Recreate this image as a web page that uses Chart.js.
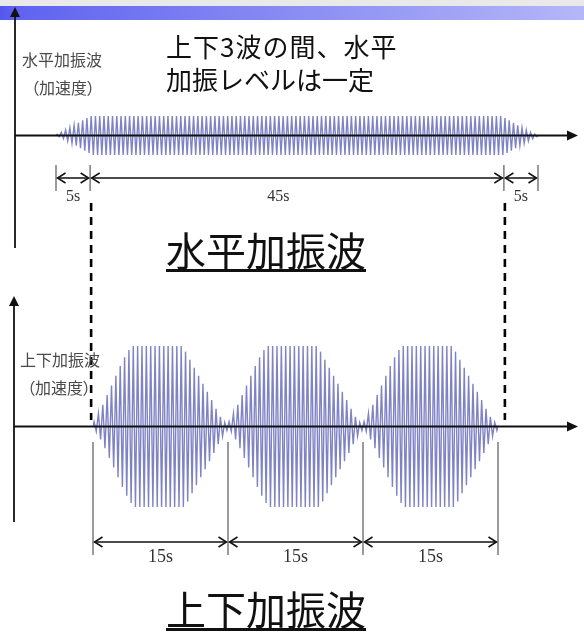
<!DOCTYPE html>
<html><head><meta charset="utf-8">
<script src="https://cdn.jsdelivr.net/npm/chart.js@4.4.0/dist/chart.umd.min.js"></script>
<style>
html,body{margin:0;padding:0;background:#fff;}
#wrap{position:relative;width:584px;height:637px;overflow:hidden;background:#fff;}
#topgray{position:absolute;left:0;top:0;width:584px;height:6px;background:#e9e9e9;}
#bar{position:absolute;left:0;top:6px;width:584px;height:14px;background:linear-gradient(to right,#5357ee 0%,#5f63f0 3%,#8588f2 45%,#b4b7f7 100%);}
canvas{position:absolute;left:0;top:0;}
.t{position:absolute;white-space:nowrap;font-family:"Noto Sans CJK JP","Noto Sans",sans-serif;}
.small{font-size:16px;line-height:16px;color:#4a4a4a;}
.palt{font-feature-settings:"palt";}
.big{font-size:26px;line-height:26px;color:#111;}
.title{font-size:40px;line-height:40px;color:#111;border-bottom:3px solid #111;}
.dim{position:absolute;white-space:nowrap;font-family:"Liberation Serif","DejaVu Serif",serif;color:#333;transform:translate(-50%,-50%);}
</style></head>
<body>
<div id="wrap">
  <div id="topgray"></div>
  <div id="bar"></div>
  <canvas id="c1" width="584" height="637"></canvas>
  <canvas id="c2" width="584" height="637"></canvas>
  <div class="t small" style="left:22px;top:51px;">水平加振波</div>
  <div class="t small palt" style="left:31px;top:79px;">（加速度）</div>
  <div class="t small" style="left:20px;top:351px;">上下加振波</div>
  <div class="t small palt" style="left:27px;top:379px;">（加速度）</div>
  <div class="t big" style="left:166px;top:33px;letter-spacing:1px;">上下3波の間、水平</div>
  <div class="t big" style="left:166px;top:66px;">加振レベルは一定</div>
  <div class="t title" style="left:166px;top:229px;">水平加振波</div>
  <div class="t title" style="left:166px;top:588px;">上下加振波</div>
</div>
<script>
// ---- data (envelope amplitude of each oscillation cycle) ----
const hRampUp   = [0.06, 0.16, 0.28, 0.40, 0.52, 0.65, 0.78, 0.90];
const hFlat     = [1,1,1,1,1,1,1,1,1,1, 1,1,1,1,1,1,1,1,1,1, 1,1,1,1,1,1,1,1,1,1,
                   1,1,1,1,1,1,1,1,1,1, 1,1,1,1,1,1,1,1,1,1, 1,1,1,1,1,1,1,1,1,1,
                   1,1,1,1,1,1,1,1,1,1, 1,1,1,1,1,1,1,1,1,1, 1,1,1,1,1,1,1,1,1,1,
                   1,1,1,1,1,1,1];
const hRampDown = [0.90, 0.78, 0.65, 0.52, 0.40, 0.28, 0.16, 0.06];

const vBurst1 = [0.06,0.16,0.27,0.39,0.51,0.63,0.75,0.86,0.95, 1,1,1,1,1,1,1,1,1,1,1,1,
                 0.93,0.83,0.73,0.63,0.53,0.43,0.33,0.22,0.12,0.05];
const vBurst2 = [0.06,0.16,0.27,0.39,0.51,0.63,0.75,0.86,0.95, 1,1,1,1,1,1,1,1,1,1,1,1,
                 0.93,0.83,0.73,0.63,0.53,0.43,0.33,0.22,0.12,0.05];
const vBurst3 = [0.06,0.16,0.27,0.39,0.51,0.63,0.75,0.86,0.95, 1,1,1,1,1,1,1,1,1,1,1,1,
                 0.93,0.83,0.73,0.63,0.53,0.43,0.33,0.22,0.12,0.05];

const hLabels = ['5s', '45s', '5s'];
const vLabels = ['15s', '15s', '15s'];

// ---- helpers ----
function wavePoints(env){
  const pts=[{x:0,y:0}];
  env.forEach((a,i)=>{ pts.push({x:i+0.25,y:a}); pts.push({x:i+0.75,y:-a}); });
  pts.push({x:env.length,y:0});
  return pts;
}
function line(ctx,x1,y1,x2,y2){ctx.beginPath();ctx.moveTo(x1,y1);ctx.lineTo(x2,y2);ctx.stroke();}
function triUp(ctx,x,y){ctx.beginPath();ctx.moveTo(x,y);ctx.lineTo(x-5,y+10);ctx.lineTo(x+5,y+10);ctx.closePath();ctx.fill();}
function triRight(ctx,x,y){ctx.beginPath();ctx.moveTo(x,y);ctx.lineTo(x-11,y-5);ctx.lineTo(x-11,y+5);ctx.closePath();ctx.fill();}
function chevron(ctx,x,y,dir){ctx.beginPath();ctx.moveTo(x-dir*8,y-5);ctx.lineTo(x,y);ctx.lineTo(x-dir*8,y+5);ctx.stroke();}
function dimArrows(ctx,bs,y,tickTop,tickBot){
  ctx.save();
  ctx.strokeStyle='#7a7a7a';ctx.lineWidth=1.5;
  bs.forEach(b=>line(ctx,b,tickTop,b,tickBot));
  ctx.strokeStyle='#111';ctx.lineWidth=1.5;
  for(let i=0;i<bs.length-1;i++){
    const a=bs[i]+1.5,b=bs[i+1]-1.5;
    line(ctx,a,y,b,y);
    chevron(ctx,a,y,-1);chevron(ctx,b,y,1);
  }
  ctx.restore();
}
function addLabel(text,x,y,size){
  const d=document.createElement('div');
  d.className='dim';d.textContent=text;
  d.style.left=x+'px';d.style.top=y+'px';d.style.fontSize=size+'px';d.style.lineHeight=size+'px';
  document.getElementById('wrap').appendChild(d);
}

const waveColor='rgba(66,72,168,0.68)';

function baseOptions(pad,xmax){
  return {
    responsive:false, animation:false, devicePixelRatio:1,
    layout:{padding:pad},
    scales:{
      x:{type:'linear',display:false,min:0,max:xmax},
      y:{type:'linear',display:false,min:-1,max:1}
    },
    plugins:{legend:{display:false},tooltip:{enabled:false},title:{display:false}},
    elements:{point:{radius:0},line:{tension:0}}
  };
}

// ---- chart 1 : horizontal excitation ----
const hEnv=[...hRampUp,...hFlat,...hRampDown];
const hBounds=[0,hRampUp.length,hRampUp.length+hFlat.length,hEnv.length];
const axes1={
  id:'axes1',
  afterDatasetsDraw(chart){
    const ctx=chart.ctx,xs=chart.scales.x,ys=chart.scales.y;
    const y0=ys.getPixelForValue(0);
    ctx.save();
    ctx.strokeStyle='#111';ctx.fillStyle='#111';ctx.lineWidth=1.8;
    line(ctx,15,248,15,14);triUp(ctx,15,7);
    line(ctx,15,y0,568,y0);triRight(ctx,578,y0);
    const bs=hBounds.map(v=>xs.getPixelForValue(v));
    dimArrows(ctx,bs,178,165,191);
    ctx.strokeStyle='#000';ctx.lineWidth=2.6;ctx.setLineDash([8,6]);
    line(ctx,bs[1]+1,203,bs[1]+1,420);
    line(ctx,bs[2]+1,203,bs[2]+1,420);
    ctx.restore();
  }
};
const ch1=new Chart(document.getElementById('c1'),{
  type:'line',
  data:{datasets:[{data:wavePoints(hEnv),borderColor:waveColor,borderWidth:1.4,fill:false}]},
  options:baseOptions({left:56,right:46,top:116,bottom:482},hEnv.length),
  plugins:[axes1]
});

// ---- chart 2 : vertical excitation ----
const vEnv=[...vBurst1,...vBurst2,...vBurst3];
const vBounds=[0,vBurst1.length,vBurst1.length+vBurst2.length,vEnv.length];
const axes2={
  id:'axes2',
  afterDatasetsDraw(chart){
    const ctx=chart.ctx,xs=chart.scales.x,ys=chart.scales.y;
    const y0=ys.getPixelForValue(0);
    ctx.save();
    ctx.strokeStyle='#111';ctx.fillStyle='#111';ctx.lineWidth=1.8;
    line(ctx,14,522,14,303);triUp(ctx,14,296);
    line(ctx,14,y0,568,y0);triRight(ctx,578,y0);
    const bs=vBounds.map(v=>xs.getPixelForValue(v));
    dimArrows(ctx,bs,542,442,555);
    ctx.restore();
  }
};
const ch2=new Chart(document.getElementById('c2'),{
  type:'line',
  data:{datasets:[{data:wavePoints(vEnv),borderColor:waveColor,borderWidth:1.4,fill:false}]},
  options:baseOptions({left:93,right:86,top:346,bottom:130},vEnv.length),
  plugins:[axes2]
});

// ---- dimension labels placed through the scales ----
(function(){
  const xs=ch1.scales.x;
  const b=hBounds.map(v=>xs.getPixelForValue(v));
  addLabel(hLabels[0],(b[0]+b[1])/2,196,16);
  addLabel(hLabels[1],b[1]+(b[2]-b[1])*0.455,196,16);
  addLabel(hLabels[2],(b[2]+b[3])/2,196,16);
  const xs2=ch2.scales.x;
  const c=vBounds.map(v=>xs2.getPixelForValue(v));
  for(let i=0;i<3;i++) addLabel(vLabels[i],(c[i]+c[i+1])/2,556,18);
})();
</script>
</body></html>
